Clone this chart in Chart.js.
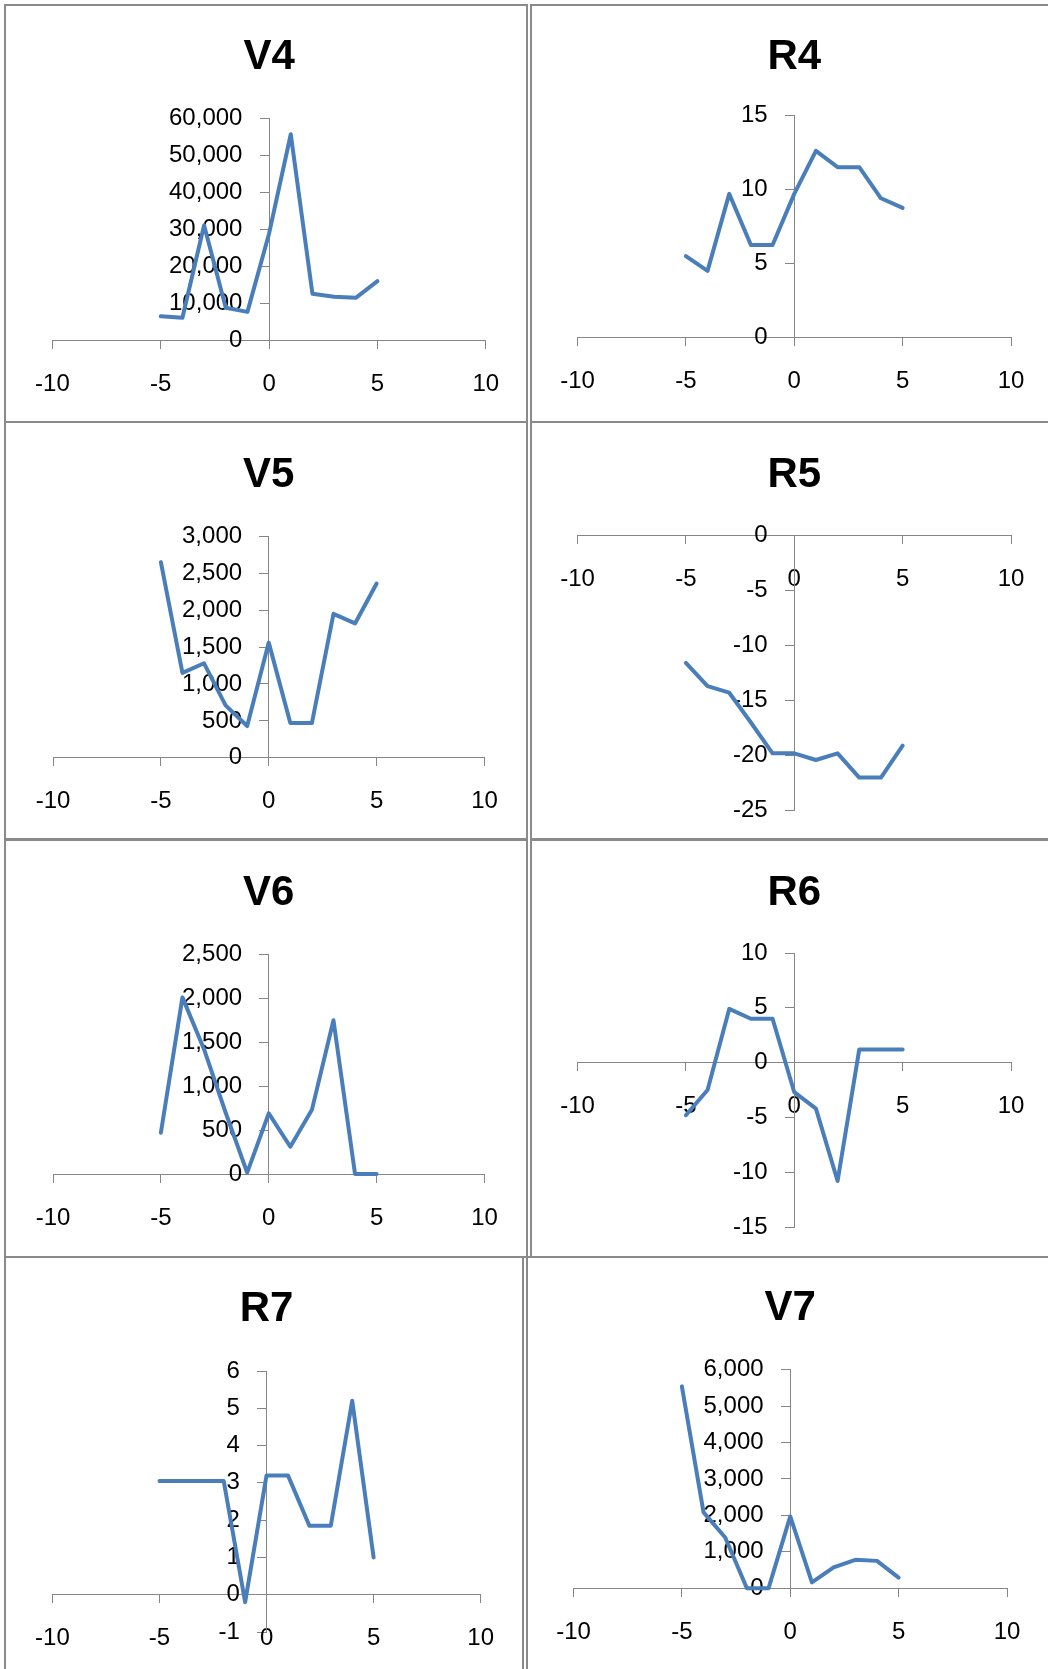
<!DOCTYPE html>
<html>
<head>
<meta charset="utf-8"/>
<script src="https://cdn.jsdelivr.net/npm/chart.js@4.4.1/dist/chart.umd.min.js"></script>
<style>
  html, body { margin: 0; padding: 0; background: #fff; overflow: hidden; width: 1048px; height: 1669px; }
  .panel { position: absolute; height: 419px; box-sizing: border-box; border: 2px solid #8a8a8a; }
  .panel canvas { position: absolute; left: -2px; top: -2px; }
</style>
</head>
<body>
<script>
  // shared x values and x axis (min, max, step)
  var xValues = [-5, -4, -3, -2, -1, 0, 1, 2, 3, 4, 5];
  var xAxis = [-10, 10, 5];

  // series
  var v4 = [6400, 6000, 31000, 8700, 7600, 28800, 55600, 12500, 11700, 11400, 15900];
  var r4 = [5.5, 4.5, 9.7, 6.25, 6.25, 9.7, 12.6, 11.5, 11.5, 9.4, 8.75];
  var v5 = [2650, 1150, 1280, 710, 430, 1560, 470, 470, 1950, 1820, 2360];
  var r5 = [-11.6, -13.7, -14.3, -17.0, -19.8, -19.8, -20.4, -19.8, -22.0, -22.0, -19.1];
  var v6 = [470, 2010, 1420, 700, 15, 690, 310, 730, 1750, 0, 0];
  var r6 = [-4.8, -2.5, 4.9, 4.0, 4.0, -2.7, -4.2, -10.8, 1.2, 1.2, 1.2];
  var r7 = [3.05, 3.05, 3.05, 3.05, -0.2, 3.2, 3.2, 1.85, 1.85, 5.2, 1.0];
  var v7 = [5540, 2080, 1390, 0, 0, 1970, 160, 570, 780, 750, 290];

  // y axis per chart: min, max, step
  var yV4 = [0, 60000, 10000];
  var yR4 = [0, 15, 5];
  var yV5 = [0, 3000, 500];
  var yR5 = [-25, 0, 5];
  var yV6 = [0, 2500, 500];
  var yR6 = [-15, 10, 5];
  var yR7 = [-1, 6, 1];
  var yV7 = [0, 6000, 1000];

  // page layout: panel box, plot area [left, top, right, bottom], title centre
  var panels = [
    { name: "V4", values: v4, y: yV4, left: 4,   top: 4,    width: 524, area: [52.4, 118, 485.8, 340],    titleY: 57.5 },
    { name: "R4", values: r4, y: yR4, left: 530, top: 4,    width: 524, area: [577.5, 115.3, 1011, 337.6], titleY: 57 },
    { name: "V5", values: v5, y: yV5, left: 4,   top: 421,  width: 524, area: [53, 536.3, 484.5, 757.8],  titleY: 475.5 },
    { name: "R5", values: r5, y: yR5, left: 530, top: 421,  width: 524, area: [577.5, 535, 1011, 810.7],  titleY: 475 },
    { name: "V6", values: v6, y: yV6, left: 4,   top: 839,  width: 524, area: [53, 954.3, 484.5, 1174],   titleY: 893.5 },
    { name: "R6", values: r6, y: yR6, left: 530, top: 839,  width: 524, area: [577.5, 953, 1011, 1227],   titleY: 893 },
    { name: "R7", values: r7, y: yR7, left: 4,   top: 1256, width: 520, area: [52.4, 1371, 480.7, 1632],  titleY: 1309 },
    { name: "V7", values: v7, y: yV7, left: 526, top: 1256, width: 524, area: [573.5, 1369.6, 1007, 1588.2], titleY: 1308.5 }
  ];

  var HEIGHT = 419;
  var FONT = "'Liberation Sans', Arial, sans-serif";
  var AXIS = "#868686";
  var TITLE_SIZE = 42;
  var TICK_SIZE = 24;

  // y labels on a value-positioned axis sit flush on the axis line,
  // so pad them on the right with a few spaces like Excel does
  function yLabel(v) {
    return v.toLocaleString("en-US") + "    ";
  }

  panels.forEach(function(p) {
    var box = document.createElement("div");
    box.className = "panel";
    box.style.left = p.left + "px";
    box.style.top = p.top + "px";
    box.style.width = p.width + "px";
    var canvas = document.createElement("canvas");
    canvas.width = p.width;
    canvas.height = HEIGHT;
    box.appendChild(canvas);
    document.body.appendChild(box);

    var pts = xValues.map(function(x, i) { return { x: x, y: p.values[i] }; });
    var titleLh = TITLE_SIZE * 1.2;

    new Chart(canvas, {
      type: "scatter",
      data: {
        datasets: [{
          data: pts,
          showLine: true,
          borderColor: "#4a7ebb",
          borderWidth: 4,
          borderJoinStyle: "round",
          borderCapStyle: "round",
          pointRadius: 0,
          tension: 0,
          clip: false
        }]
      },
      options: {
        responsive: false,
        animation: false,
        devicePixelRatio: 1,
        events: [],
        layout: {
          padding: {
            left: p.area[0] - p.left,
            right: p.left + p.width - p.area[2],
            top: 0,
            bottom: p.top + HEIGHT - p.area[3]
          }
        },
        plugins: {
          legend: { display: false },
          tooltip: { enabled: false },
          title: {
            display: true,
            text: p.name,
            color: "#000",
            font: { family: FONT, size: TITLE_SIZE, weight: "bold", lineHeight: 1.2 },
            padding: {
              top: p.titleY - p.top - titleLh / 2,
              bottom: p.area[1] - p.titleY - titleLh / 2
            }
          }
        },
        scales: {
          x: {
            type: "linear",
            min: xAxis[0],
            max: xAxis[1],
            position: { y: 0 },
            ticks: { stepSize: xAxis[2], padding: 21.6, color: "#000", font: { family: FONT, size: TICK_SIZE }, maxRotation: 0, autoSkip: false },
            grid: { drawOnChartArea: false, tickLength: 8, color: AXIS },
            border: { color: AXIS, width: 1 },
            afterFit: function(s) { s.height = 0; }
          },
          y: {
            type: "linear",
            min: p.y[0],
            max: p.y[1],
            position: { x: 0 },
            ticks: { stepSize: p.y[2], color: "#000", font: { family: FONT, size: TICK_SIZE }, autoSkip: false, callback: yLabel },
            grid: { drawOnChartArea: false, tickLength: 9, color: AXIS },
            border: { color: AXIS, width: 1 },
            afterFit: function(s) { s.width = 0; }
          }
        }
      }
    });
  });
</script>
</body>
</html>
